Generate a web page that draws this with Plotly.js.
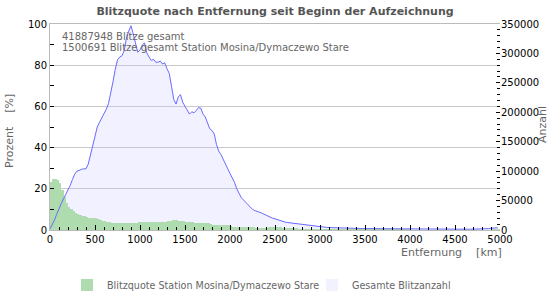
<!DOCTYPE html>
<html>
<head>
<meta charset="utf-8">
<script src="https://cdn.plot.ly/plotly-3.0.1.min.js"></script>
<style>html,body{margin:0;padding:0;background:#fff;}#chart{width:550px;height:300px;}</style>
</head>
<body>
<div id="chart"></div>
<script>
// Distance bins (start of each 25 km bin), km
const entfernung = [];
for (let k = 0; k < 200; k++) entfernung.push(k * 25);

// Total lightning count per distance bin (right axis)
const gesamteBlitzanzahl = [
  2000, 9000, 17000, 27000, 37000, 45000, 53000, 60000, 68000, 76000,
  86000, 95000, 100000, 102000, 103000, 104000, 104000, 112000, 128000, 145000,
  162000, 175000, 183000, 190000, 197000, 205000, 215000, 232000, 252000, 273000,
  289000, 294000, 296000, 305000, 327000, 338000, 347000, 333000, 315000, 302000,
  306000, 314000, 318000, 301000, 294000, 288000, 290000, 285000, 285000, 287000,
  282000, 284000, 274000, 266000, 244000, 222000, 214000, 226000, 230000, 217000,
  210000, 203000, 197000, 201000, 199000, 203000, 208000, 207000, 197000, 192000,
  180000, 172000, 169000, 163000, 145000, 134000, 128000, 119000, 112000, 104000,
  96000, 88000, 81000, 70000, 61000, 55000, 51000, 46000, 43000, 39000,
  35000, 33000, 32000, 30000, 29000, 27000, 25000, 23000, 21500, 20000,
  19000, 17500, 16000, 14500, 14000, 13000, 12500, 12000, 11400, 10500,
  10000, 9400, 8800, 8200, 7700, 7200, 6800, 6300, 6000, 5700,
  5500, 5100, 4700, 4400, 4100, 3900, 3700, 3500, 3300, 3200,
  3100, 3000, 2900, 2800, 2700, 2650, 2600, 2550, 2500, 2450,
  2400, 2350, 2300, 2300, 2250, 2200, 2200, 2150, 2100, 2100,
  2050, 2000, 2000, 1950, 1950, 1900, 1900, 1850, 1850, 1800,
  1800, 1750, 1750, 1700, 1700, 1700, 1650, 1650, 1600, 1600,
  1600, 1550, 1550, 1500, 1500, 1500, 1450, 1450, 1450, 1400,
  1400, 1400, 1350, 1350, 1350, 1300, 1300, 1300, 1300, 1250,
  1250, 1300, 1400, 1600, 1900, 2400, 3000, 3400, 3600, 3800
];

// Lightning quota of station per distance bin, % (left axis)
const blitzquote = [
  23.5, 24.8, 24.8, 24.5, 23.0, 19.5, 16.0, 13.0, 11.3, 10.2,
  9.2, 8.4, 7.9, 7.4, 7.0, 6.6, 6.3, 6.0, 5.9, 5.8,
  5.6, 5.2, 4.9, 4.6, 4.3, 4.0, 3.8, 3.6, 3.5, 3.4,
  3.3, 3.3, 3.2, 3.2, 3.3, 3.2, 3.3, 3.4, 3.6, 3.8,
  4.0, 4.0, 4.1, 4.0, 4.0, 4.0, 4.0, 4.1, 4.0, 4.0,
  3.9, 4.0, 4.2, 4.5, 4.8, 4.9, 4.7, 4.5, 4.3, 4.2,
  4.1, 4.1, 4.0, 4.0, 3.6, 3.4, 3.3, 3.3, 3.2, 3.2,
  3.2, 3.0, 2.6, 2.5, 2.5, 2.4, 2.4, 2.4, 2.4, 2.3,
  2.0, 1.7, 1.7, 1.6, 1.6, 1.6, 1.6, 1.5, 1.5, 1.4,
  1.3, 1.2, 1.2, 1.1, 1.1, 1.0, 1.1, 1.3, 1.6, 1.7,
  1.6, 1.5, 1.3, 1.1, 1.0, 0.9, 0.9, 0.8, 0.8, 0.8,
  0.7, 0.7, 0.7, 0.6, 0.6, 0.6, 0.6, 0.5, 0.5, 0.5,
  0.5, 0.5, 0.5, 0.4, 0.4, 0.4, 0.4, 0.4, 0.4, 0.4,
  0.4, 0.4, 0.3, 0.3, 0.3, 0.3, 0.3, 0.3, 0.3, 0.3,
  0.3, 0.3, 0.3, 0.3, 0.3, 0.3, 0.3, 0.3, 0.3, 0.3,
  0.3, 0.3, 0.3, 0.3, 0.3, 0.3, 0.3, 0.3, 0.3, 0.3,
  0.2, 0.2, 0.2, 0.2, 0.2, 0.2, 0.2, 0.2, 0.2, 0.2,
  0.2, 0.2, 0.2, 0.2, 0.2, 0.2, 0.2, 0.2, 0.2, 0.2,
  0.2, 0.2, 0.2, 0.2, 0.2, 0.2, 0.2, 0.2, 0.2, 0.2,
  0.2, 0.2, 0.2, 0.2, 0.2, 0.2, 0.3, 0.3, 0.3, 0.3
];

const chartTitle = 'Blitzquote nach Entfernung seit Beginn der Aufzeichnung';
const infoLines = ['41887948 Blitze gesamt', '1500691 Blitze gesamt Station Mosina/Dymaczewo Stare'];
const seriesNames = ['Blitzquote Station Mosina/Dymaczewo Stare', 'Gesamte Blitzanzahl'];
const xTitle = 'Entfernung\u00a0\u00a0\u00a0\u00a0[km]';
const yTitle = 'Prozent\u00a0\u00a0\u00a0\u00a0[%]';
const y2Title = 'Anzahl';

const FONT = 'DejaVu Sans, Verdana, sans-serif';
const GREEN = '#aedcae';
const LAV = 'rgba(200,200,255,0.25)';
const LAVSWATCH = '#f2f2ff';
const BLUE = '#6a6aff';

const traces = [
  { // lavender area (counts, bottom layer)
    type: 'scatter', mode: 'lines', x: entfernung, y: gesamteBlitzanzahl,
    xaxis: 'x', yaxis: 'y', fill: 'tozeroy', fillcolor: LAV,
    line: {width: 0, color: LAV}, showlegend: false, hoverinfo: 'skip'
  },
  { // percent bars
    type: 'bar', x: entfernung, y: blitzquote, xaxis: 'x', yaxis: 'y2',
    offset: 0, width: 25, marker: {color: GREEN, line: {width: 0}},
    name: seriesNames[0], legend: 'legend'
  },
  { // count line on top
    type: 'scatter', mode: 'lines', x: entfernung, y: gesamteBlitzanzahl,
    xaxis: 'x', yaxis: 'y3', line: {width: 1, color: BLUE},
    showlegend: false
  },
  { // legend swatch for the total count series
    type: 'bar', x: [null], y: [null], xaxis: 'x', yaxis: 'y3',
    marker: {color: LAVSWATCH, line: {width: 0}},
    name: seriesNames[1], legend: 'legend2'
  }
];

const legendFont = {family: FONT, size: 9.6, color: '#666'};
const layout = {
  width: 550, height: 300,
  margin: {l: 50, r: 50, t: 24, b: 70, autoexpand: false},
  paper_bgcolor: '#fff', plot_bgcolor: 'rgba(0,0,0,0)',
  font: {family: FONT, size: 10, color: '#000'},
  barmode: 'overlay', bargap: 0,
  title: {text: chartTitle, x: 0.5, xanchor: 'center', y: 1 - 11/300, yanchor: 'middle',
          font: {family: FONT, size: 11, color: '#555', weight: 'bold'}},
  showlegend: true,
  legend: {orientation: 'h', x: (67-50)/450, xanchor: 'left', y: -0.267, yanchor: 'middle',
           bgcolor: 'rgba(0,0,0,0)', font: legendFont, itemclick: false},
  legend2: {orientation: 'h', x: (312-50)/450, xanchor: 'left', y: -0.267, yanchor: 'middle',
           bgcolor: 'rgba(0,0,0,0)', font: legendFont, itemclick: false},
  xaxis: {range: [0, 5000], dtick: 500, tick0: 0, ticks: 'inside', ticklen: 5, tickcolor: '#000',
          minor: {dtick: 100, ticks: 'inside', ticklen: 3, tickcolor: '#000'},
          showgrid: false, zeroline: false, showline: true, linecolor: '#bbb', mirror: true,
          tickfont: {size: 10, color: '#000'}, fixedrange: true},
  yaxis: {range: [0, 350000], side: 'right', dtick: 50000, tickformat: 'd',
          ticks: 'inside', ticklen: 4, tickcolor: '#000',
          minor: {dtick: 10000, ticks: 'inside', ticklen: 3, tickcolor: '#000'},
          showgrid: false, zeroline: false, showline: false, tickfont: {size: 10, color: '#000'}},
  yaxis2: {range: [0, 100], overlaying: 'y', side: 'left', dtick: 20,
           ticks: 'inside', ticklen: 4, tickcolor: '#000',
           minor: {dtick: 10, ticks: 'inside', ticklen: 4, tickcolor: '#000'},
           showgrid: true, gridcolor: '#c8c8c8', gridwidth: 1, zeroline: false,
           showline: true, linecolor: '#bbb', tickfont: {size: 10, color: '#000'}},
  yaxis3: {range: [0, 350000], overlaying: 'y', visible: false},
  annotations: [
    {text: infoLines[0], xref: 'paper', yref: 'paper', x: 10/450, y: (230-37)/206,
     xanchor: 'left', yanchor: 'middle', showarrow: false, font: {family: FONT, size: 10, color: '#666'}},
    {text: infoLines[1], xref: 'paper', yref: 'paper', x: 10/450, y: (230-48)/206,
     xanchor: 'left', yanchor: 'middle', showarrow: false, font: {family: FONT, size: 10, color: '#666'}},
    {text: xTitle, xref: 'paper', yref: 'paper', x: (504-50)/450, y: (230-252)/206,
     xanchor: 'right', yanchor: 'middle', showarrow: false, font: {family: FONT, size: 11, color: '#666'}},
    {text: yTitle, xref: 'paper', yref: 'paper', x: (9-50)/450, y: (230-131)/206,
     xanchor: 'center', yanchor: 'middle', textangle: -90, showarrow: false, font: {family: FONT, size: 11, color: '#666'}},
    {text: y2Title, xref: 'paper', yref: 'paper', x: (542-50)/450, y: (230-125)/206,
     xanchor: 'center', yanchor: 'middle', textangle: -90, showarrow: false, font: {family: FONT, size: 11, color: '#666'}}
  ]
};

Plotly.newPlot('chart', traces, layout, {staticPlot: true, displayModeBar: false});
</script>
</body>
</html>
